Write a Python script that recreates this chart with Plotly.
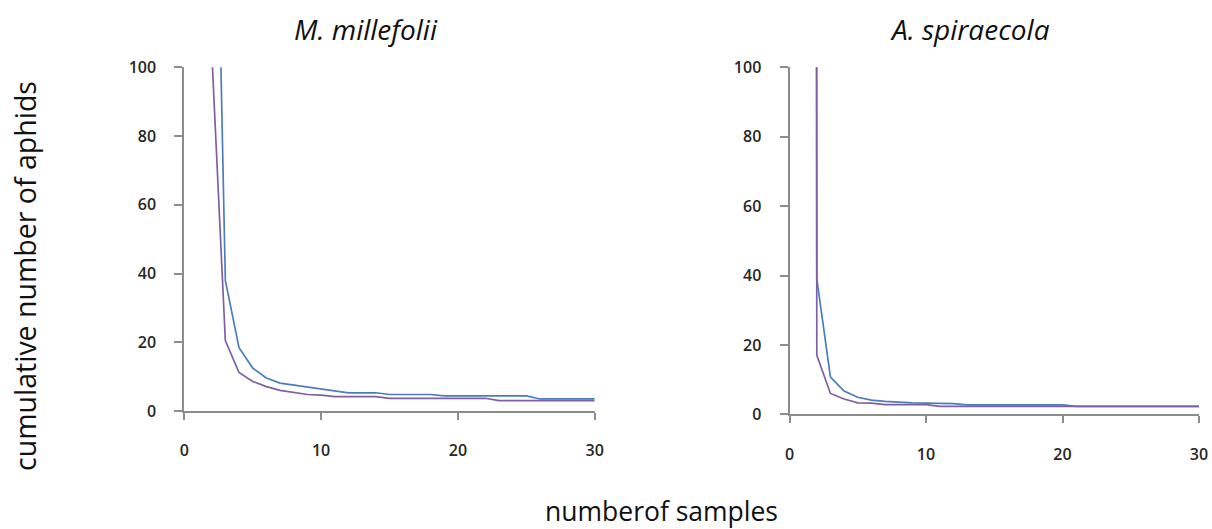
import plotly.graph_objects as go

# Sample counts (x) and cumulative aphid numbers for two precision levels
samples = list(range(1, 31))

mm_blue = [900, 230, 38, 18.4, 12.5, 9.6, 8.1, 7.5, 7.0, 6.3, 5.8, 5.3, 5.3, 5.3,
           4.8, 4.8, 4.8, 4.8, 4.4, 4.4, 4.4, 4.4, 4.4, 4.4, 4.4,
           3.5, 3.5, 3.5, 3.5, 3.5]
mm_purple = [600, 105, 20.5, 11.2, 8.6, 7.1, 6.0, 5.3, 4.8, 4.6, 4.2, 4.2, 4.2, 4.2,
             3.7, 3.7, 3.7, 3.7, 3.7, 3.7, 3.7, 3.7,
             3.0, 3.0, 3.0, 3.0, 3.0, 3.0, 3.0, 3.0]

as_blue = [6000, 39, 10.7, 6.7, 4.9, 4.1, 3.7, 3.4, 3.3, 3.2, 3.1, 3.1,
           2.7, 2.7, 2.7, 2.7, 2.7, 2.7, 2.7, 2.7,
           2.3, 2.3, 2.3, 2.3, 2.3, 2.3, 2.3, 2.3, 2.3, 2.3]
as_purple = [5000, 17, 6.0, 4.4, 3.3, 3.2, 2.8, 2.8, 2.8, 2.8,
             2.3, 2.3, 2.3, 2.3, 2.3, 2.3, 2.3, 2.3, 2.3, 2.3,
             2.3, 2.3, 2.3, 2.3, 2.3, 2.3, 2.3, 2.3, 2.3, 2.3]

panel_titles = ["M. millefolii", "A. spiraecola"]
x_ticks = [0, 10, 20, 30]
y_ticks = [0, 20, 40, 60, 80, 100]

BLUE = "#4A7EBB"
PURPLE = "#7E5FA6"
AXIS = "#8C8C8C"
W, H = 1212, 529

fig = go.Figure()

fig.add_trace(go.Scatter(x=samples, y=mm_blue, mode="lines",
                         line=dict(color=BLUE, width=1.7), xaxis="x", yaxis="y"))
fig.add_trace(go.Scatter(x=samples, y=mm_purple, mode="lines",
                         line=dict(color=PURPLE, width=1.7), xaxis="x", yaxis="y"))
fig.add_trace(go.Scatter(x=samples, y=as_blue, mode="lines",
                         line=dict(color=BLUE, width=1.7), xaxis="x2", yaxis="y2"))
fig.add_trace(go.Scatter(x=samples, y=as_purple, mode="lines",
                         line=dict(color=PURPLE, width=1.7), xaxis="x2", yaxis="y2"))

tick_font = dict(family="Open Sans", size=16, color="#262626", weight=600)

def xaxis(domain, anchor):
    return dict(domain=domain, anchor=anchor, range=[0, 30], tickvals=x_ticks,
                showgrid=False, zeroline=False, showline=True, linecolor=AXIS,
                linewidth=2, ticks="outside", ticklen=7, tickwidth=2, tickcolor=AXIS,
                tickfont=tick_font, ticklabelstandoff=17, fixedrange=True,
                automargin=False)

def yaxis(domain, anchor):
    return dict(domain=domain, anchor=anchor, range=[0, 100], tickvals=y_ticks,
                showgrid=False, zeroline=False, showline=True, linecolor=AXIS,
                linewidth=2, ticks="outside", ticklen=8, tickwidth=2, tickcolor=AXIS,
                tickfont=tick_font, ticklabelstandoff=15, fixedrange=True,
                automargin=False)

fig.update_layout(
    width=W, height=H, autosize=False,
    margin=dict(l=0, r=0, t=0, b=0, pad=0, autoexpand=False),
    paper_bgcolor="white", plot_bgcolor="white",
    showlegend=False,
    xaxis=xaxis([184.3 / W, 594.7 / W], "y"),
    yaxis=yaxis([1 - 411 / H, 1 - 67.3 / H], "x"),
    xaxis2=xaxis([789.5 / W, 1199 / W], "y2"),
    yaxis2=yaxis([1 - 414.3 / H, 1 - 67.3 / H], "x2"),
)

title_font = dict(family="Open Sans", size=28, color="#111111")
for title, cx in zip(panel_titles, [366, 970]):
    fig.add_annotation(text=f"<i>{title}</i>", x=cx / W, y=1 - 29 / H,
                       xref="paper", yref="paper", showarrow=False,
                       xanchor="center", yanchor="middle", font=title_font)

fig.add_annotation(text="cumulative number of aphids", x=25 / W, y=1 - 276 / H,
                   xref="paper", yref="paper", showarrow=False, textangle=-90,
                   xanchor="center", yanchor="middle",
                   font=dict(family="Open Sans", size=28.5, color="#111111"))
fig.add_annotation(text="numberof samples", x=661 / W, y=1 - 511 / H,
                   xref="paper", yref="paper", showarrow=False,
                   xanchor="center", yanchor="middle",
                   font=dict(family="Open Sans", size=26.5, color="#111111"))

fig.write_html("out.html")
